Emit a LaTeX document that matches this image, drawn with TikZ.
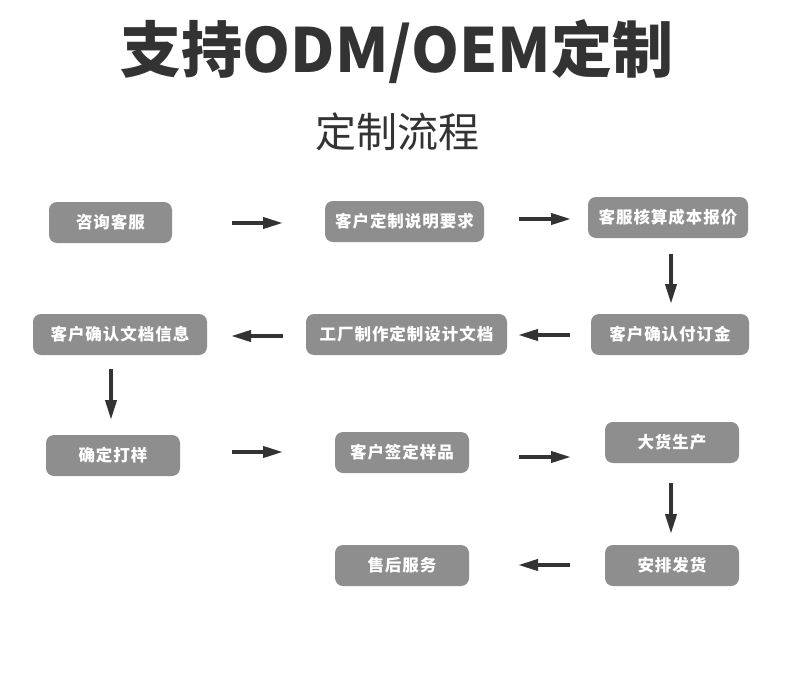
\documentclass[tikz,border=0pt]{standalone}
\usepackage{fontspec}
\setmainfont{Noto Sans CJK SC}
\newfontfamily\boxfont[LetterSpace=6]{Noto Sans CJK SC}
\usetikzlibrary{arrows.meta}
\definecolor{boxgray}{HTML}{8E8E8E}
\definecolor{ink}{HTML}{333333}
\tikzset{
  stepbox/.style={fill=boxgray, rounded corners=8pt, minimum height=41pt, inner sep=0pt,
    text=white, font=\boxfont\bfseries\fontsize{16.5}{19}\selectfont},
  flow/.style={draw=ink, line width=3.8pt, -{Triangle[length=20pt,width=11pt]}},
}
\begin{document}
\begin{tikzpicture}[x=1pt,y=-1pt]
\useasboundingbox (0,0) rectangle (790,677);
\fill[white] (0,0) rectangle (790,677);
\node[text=ink, font=\bfseries\fontsize{61}{70}\selectfont] (title) at (397,52) {支持ODM/OEM定制};
\node[text=ink, font=\fontsize{41}{48}\selectfont] (sub) at (397,132) {定制流程};

\node[stepbox, minimum width=123pt] (n1) at (110.5,222.5) {咨询客服};
\node[stepbox, minimum width=159pt] (n2) at (404.5,221.5) {客户定制说明要求};
\node[stepbox, minimum width=160pt] (n3) at (668,217.5) {客服核算成本报价};
\node[stepbox, minimum width=158pt] (n4) at (670,334.5) {客户确认付订金};
\node[stepbox, minimum width=201pt] (n5) at (406.5,334.5) {工厂制作定制设计文档};
\node[stepbox, minimum width=174pt] (n6) at (120,334.5) {客户确认文档信息};
\node[stepbox, minimum width=134pt] (n7) at (113,455.5) {确定打样};
\node[stepbox, minimum width=134pt] (n8) at (402,452.5) {客户签定样品};
\node[stepbox, minimum width=134pt] (n9) at (672,442.5) {大货生产};
\node[stepbox, minimum width=134pt] (n10) at (672,565.5) {安排发货};
\node[stepbox, minimum width=134pt] (n11) at (402,565.5) {售后服务};

\coordinate (a1s) at (232,223); \coordinate (a1e) at (283,223);
\coordinate (a2s) at (519,219); \coordinate (a2e) at (571,219);
\coordinate (a3s) at (671,254); \coordinate (a3e) at (671,304);
\coordinate (a4s) at (570,335); \coordinate (a4e) at (518,335);
\coordinate (a5s) at (283,336); \coordinate (a5e) at (231,336);
\coordinate (a6s) at (111,369); \coordinate (a6e) at (111,420);
\coordinate (a7s) at (232,452); \coordinate (a7e) at (283,452);
\coordinate (a8s) at (519,457); \coordinate (a8e) at (571,457);
\coordinate (a9s) at (671,483); \coordinate (a9e) at (671,534);
\coordinate (a10s) at (570,565); \coordinate (a10e) at (518,565);

\foreach \i in {1,...,10} { \draw[flow] (a\i s) -- (a\i e); }
\end{tikzpicture}
\end{document}
